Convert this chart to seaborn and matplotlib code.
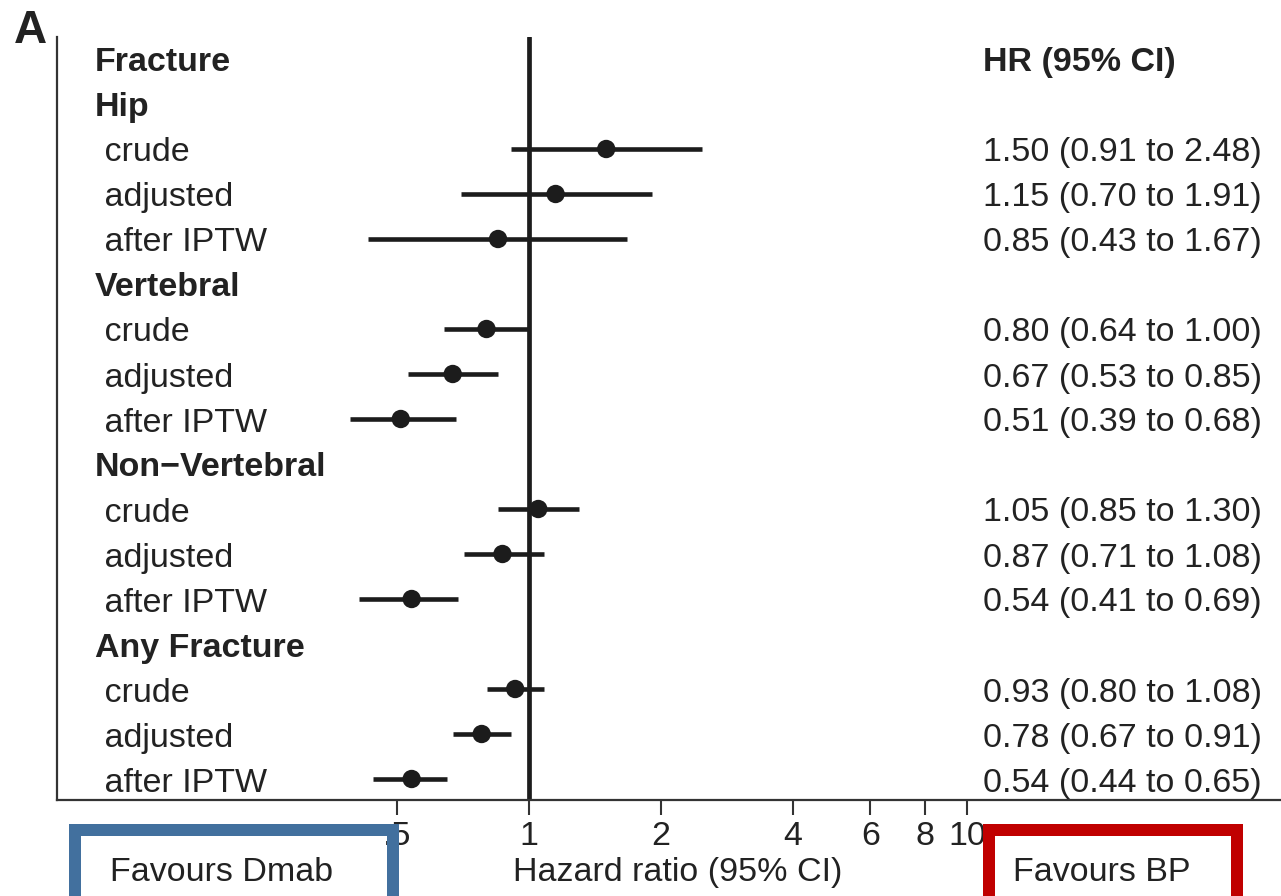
import numpy as np
import pandas as pd
import matplotlib
matplotlib.use("Agg")
import matplotlib.pyplot as plt
import matplotlib.patches as mpatches
import matplotlib.transforms as mtransforms
from matplotlib.ticker import FixedLocator, FixedFormatter, NullLocator
import seaborn as sns

# ---- data ----
groups = ["Hip", "Vertebral", "Non\u2212Vertebral", "Any Fracture"]
methods = ["crude", "adjusted", "after IPTW"]
hr = [1.50, 1.15, 0.85, 0.80, 0.67, 0.51, 1.05, 0.87, 0.54, 0.93, 0.78, 0.54]
ci_low = [0.91, 0.70, 0.43, 0.64, 0.53, 0.39, 0.85, 0.71, 0.41, 0.80, 0.67, 0.44]
ci_high = [2.48, 1.91, 1.67, 1.00, 0.85, 0.68, 1.30, 1.08, 0.69, 1.08, 0.91, 0.65]
tick_values = [0.5, 1, 2, 4, 6, 8, 10]
tick_labels = [".5", "1", "2", "4", "6", "8", "10"]

sns.set_theme(style="ticks")
plt.rcParams["font.family"] = ["Liberation Sans", "DejaVu Sans"]

W, H = 1281, 896
fig = plt.figure(figsize=(W / 100, H / 100), dpi=100)
ax_l, ax_r, ax_t, ax_b = 57, 1281, 37, 800
ax = fig.add_axes([ax_l / W, 1 - ax_b / H, (ax_r - ax_l) / W, (ax_b - ax_t) / H])

# rows
rows = []
ypos = 1
for g, grp in enumerate(groups):
    rows.append(dict(label=grp, y=ypos, header=True))
    ypos += 1
    for m, meth in enumerate(methods):
        i = g * 3 + m
        rows.append(dict(label=" " + meth, y=ypos, header=False,
                         hr=hr[i], lo=ci_low[i], hi=ci_high[i]))
        ypos += 1
df = pd.DataFrame([r for r in rows if not r["header"]])

ink = "#1c1c1c"
txt = "#222222"

# reference line
ax.axvline(1, color=ink, lw=3.4, zorder=1)
# CI lines
ax.hlines(df["y"], df["lo"], df["hi"], color=ink, lw=3.3, zorder=2)
# points
sns.scatterplot(data=df, x="hr", y="y", ax=ax, color=ink, s=175,
                edgecolor="none", zorder=3, legend=False)

ax.set_xscale("log")
px_per_log2 = 132.0
xmin = 2 ** ((ax_l - 529) / px_per_log2)
xmax = 2 ** ((ax_r - 529) / px_per_log2)
ax.set_xlim(xmin, xmax)
row0 = 59.0
step = 45.0
ax.set_ylim((ax_b - row0) / step, (ax_t - row0) / step)

ax.xaxis.set_major_locator(FixedLocator(tick_values))
ax.xaxis.set_major_formatter(FixedFormatter(tick_labels))
ax.xaxis.set_minor_locator(NullLocator())
ax.set_yticks([])
ax.tick_params(axis="x", length=11, width=1.5, color="#333333", pad=4,
               labelsize=24.5, labelcolor=txt)
ax.set_xlabel("")
ax.set_ylabel("")
for s in ["top", "right"]:
    ax.spines[s].set_visible(False)
for s in ["left", "bottom"]:
    ax.spines[s].set_linewidth(1.6)
    ax.spines[s].set_color("#333333")

# text columns
tr = mtransforms.blended_transform_factory(ax.transAxes, ax.transData)
lx = (95 - ax_l) / (ax_r - ax_l)
rx = (983 - ax_l) / (ax_r - ax_l)
fs = 24.5
dy = 4.0 / step
ax.text(lx, 0 + dy, "Fracture", transform=tr, ha="left", va="center",
        fontsize=fs, fontweight="bold", color=txt)
ax.text(rx, 0 + dy, "HR (95% CI)", transform=tr, ha="left", va="center",
        fontsize=fs, fontweight="bold", color=txt)
for r in rows:
    ax.text(lx, r["y"] + dy, r["label"], transform=tr, ha="left", va="center",
            fontsize=fs, fontweight="bold" if r["header"] else "normal",
            color=txt)
    if not r["header"]:
        ax.text(rx, r["y"] + dy,
                f"{r['hr']:.2f} ({r['lo']:.2f} to {r['hi']:.2f})",
                transform=tr, ha="left", va="center", fontsize=fs, color=txt)

# panel letter
fig.text(14 / W, 1 - 43 / H, "A", fontsize=33, fontweight="bold", color=txt,
         ha="left", va="baseline")

# axis label and favour boxes
base = 1 - 881 / H
fig.text(678 / W, base, "Hazard ratio (95% CI)", fontsize=fs, color=txt,
         ha="center", va="baseline")
fig.text(110 / W, base, "Favours Dmab", fontsize=fs, color=txt,
         ha="left", va="baseline")
fig.text(1013 / W, base, "Favours BP", fontsize=fs, color=txt,
         ha="left", va="baseline")

lw_box = 12 * 0.72
for (x0, x1, col) in [(69, 399, "#42709e"), (983, 1243, "#c00000")]:
    xa, xb = x0 + 6, x1 - 6
    ya = 830
    yb = 930
    rect = mpatches.Rectangle((xa / W, 1 - yb / H), (xb - xa) / W, (yb - ya) / H,
                              transform=fig.transFigure, fill=False,
                              edgecolor=col, linewidth=lw_box, clip_on=False,
                              zorder=10)
    fig.patches.append(rect)

fig.savefig("out.png", dpi=100)
